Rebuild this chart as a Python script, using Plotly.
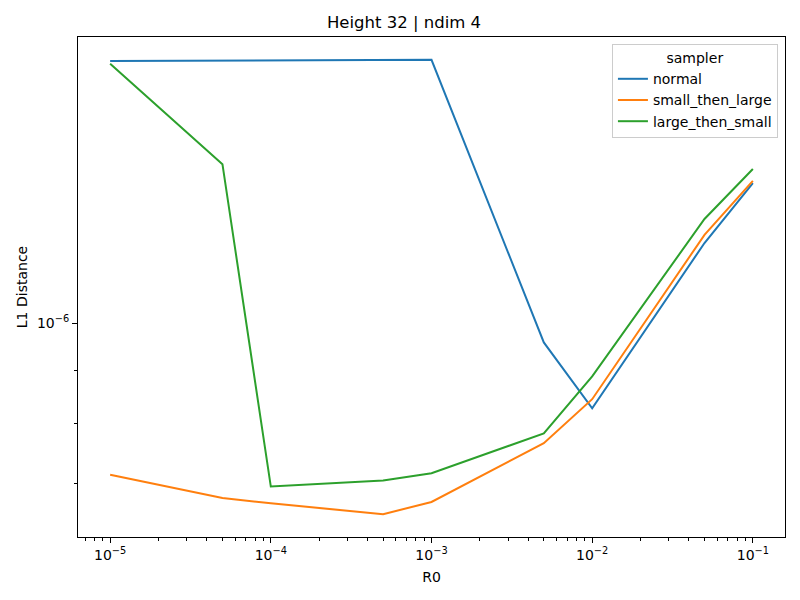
import plotly.graph_objects as go

r0 = [1e-5, 5e-5, 1e-4, 5e-4, 1e-3, 5e-3, 1e-2, 5e-2, 1e-1]
normal = [1.795e-6, 1.796e-6, 1.797e-6, 1.798e-6, 1.800e-6, 0.958e-6, 0.827e-6, 1.196e-6, 1.367e-6]
small_then_large = [0.713e-6, 0.677e-6, 0.669e-6, 0.653e-6, 0.671e-6, 0.765e-6, 0.844e-6, 1.218e-6, 1.374e-6]
large_then_small = [1.784e-6, 1.426e-6, 0.6945e-6, 0.704e-6, 0.7155e-6, 0.782e-6, 0.888e-6, 1.262e-6, 1.411e-6]

series_names = ["normal", "small_then_large", "large_then_small"]
series_values = [normal, small_then_large, large_then_small]
colors = ["#1f77b4", "#ff7f0e", "#2ca02c"]

x_tickvals = [1e-5, 1e-4, 1e-3, 1e-2, 1e-1]
x_ticktext = ["10<sup>−5</sup>", "10<sup>−4</sup>", "10<sup>−3</sup>", "10<sup>−2</sup>", "10<sup>−1</sup>"]
y_tickvals = [1e-6]
y_ticktext = ["10<sup>−6</sup>"]

x_minor = [m * 10 ** e for e in range(-6, 0) for m in range(2, 10)]
x_minor = [v for v in x_minor if 10 ** -5.2 <= v <= 10 ** -0.8]
y_minor = [7e-7, 8e-7, 9e-7]

fig = go.Figure()
for name, vals, c in zip(series_names, series_values, colors):
    fig.add_trace(go.Scatter(x=r0, y=vals, mode="lines", name=name,
                             line=dict(color=c, width=2)))

font = "DejaVu Sans"
fig.update_layout(
    width=792, height=592,
    margin=dict(l=70, r=15, t=29, b=63),
    plot_bgcolor="white", paper_bgcolor="white",
    font=dict(family=font, size=14, color="black"),
    title=dict(text="Height 32 | ndim 4", x=0.5, xanchor="center", y=0.976, yanchor="middle",
               font=dict(size=16.5, family=font)),
    showlegend=True,
    legend=dict(
        title=dict(text="sampler", side="top center", font=dict(size=14)),
        x=0.990, y=0.986, xanchor="right", yanchor="top",
        bgcolor="rgba(255,255,255,0.8)", bordercolor="#cccccc", borderwidth=1,
        font=dict(size=14), tracegroupgap=0, itemwidth=30,
    ),
)
fig.update_xaxes(
    type="log", range=[-5.2, -0.8],
    tickvals=x_tickvals, ticktext=x_ticktext,
    ticks="outside", ticklen=5, tickwidth=1, tickcolor="black",
    showline=True, linecolor="black", linewidth=1, mirror=True,
    showgrid=False, zeroline=False,
    minor=dict(tickvals=x_minor, ticks="outside", ticklen=3, tickwidth=1, tickcolor="black", showgrid=False),
    title=dict(text="R0", font=dict(size=14), standoff=10),
    tickfont=dict(size=14),
)
fig.update_yaxes(
    type="log", range=[-6.2072, -5.7226],
    tickvals=y_tickvals, ticktext=y_ticktext,
    ticks="outside", ticklen=5, tickwidth=1, tickcolor="black",
    showline=True, linecolor="black", linewidth=1, mirror=True,
    showgrid=False, zeroline=False,
    minor=dict(tickvals=y_minor, ticks="outside", ticklen=3, tickwidth=1, tickcolor="black", showgrid=False),
    title=dict(text="L1 Distance", font=dict(size=14), standoff=6),
    tickfont=dict(size=14),
)

fig.write_html("out.html")
